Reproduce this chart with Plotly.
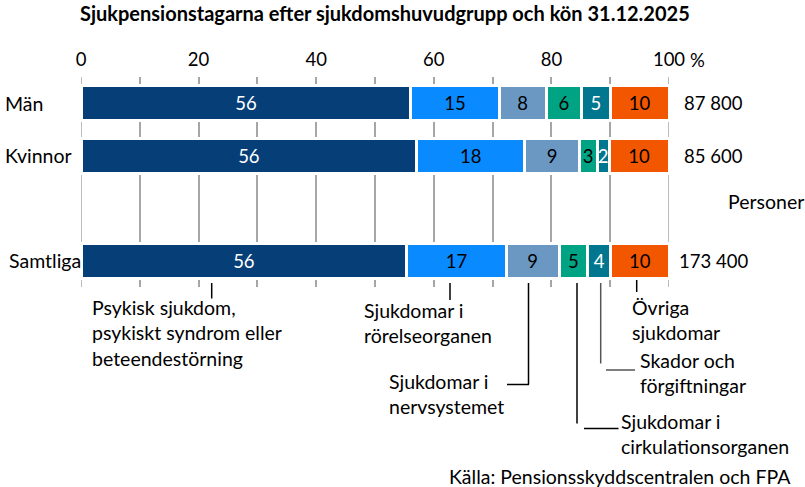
import plotly.graph_objects as go

# ---------------- data ----------------
categories = ["Män", "Kvinnor", "Samtliga"]
axis_categories = ["Män", "Kvinnor", " ", "Samtliga"]
groups = [
    "Psykisk sjukdom, psykiskt syndrom eller beteendestörning",
    "Sjukdomar i rörelseorganen",
    "Sjukdomar i nervsystemet",
    "Sjukdomar i cirkulationsorganen",
    "Skador och förgiftningar",
    "Övriga sjukdomar",
]
# shares (%) as measured from bar lengths
psykisk = [56.1, 57.1, 55.4]
rorelse = [15.0, 18.4, 16.9]
nerv = [8.0, 9.2, 9.0]
cirk = [6.0, 3.1, 4.9]
skador = [4.9, 2.0, 3.9]
ovriga = [10.0, 10.2, 9.9]
# printed labels
psykisk_lbl = ["56", "56", "56"]
rorelse_lbl = ["15", "18", "17"]
nerv_lbl = ["8", "9", "9"]
cirk_lbl = ["6", "3", "5"]
skador_lbl = ["5", "2", "4"]
ovriga_lbl = ["10", "10", "10"]
totals = ["87 800", "85 600", "173 400"]
grid_vals = [0, 10, 20, 30, 40, 50, 60, 70, 80, 90, 100]
grid_text = ["0", "", "20", "", "40", "", "60", "", "80", "", "100"]
edge_vals = [0, 100]

series = [
    (psykisk, psykisk_lbl, "#063F78", "white"),
    (rorelse, rorelse_lbl, "#0A8AFF", "black"),
    (nerv, nerv_lbl, "#6B98C3", "black"),
    (cirk, cirk_lbl, "#00A384", "black"),
    (skador, skador_lbl, "#00778F", "white"),
    (ovriga, ovriga_lbl, "#F25700", "black"),
]

FONT = "Lato"
FS_TXT = 19.5
FS_NUM = 18.5
FS_TITLE = 20
GRID = "#A6A6A6"

# ---------------- layout geometry (pixels) ----------------
W, H = 805, 487
L, R, T, B = 81, 136, 77, 200
PW = W - L - R
PH = H - T - B


def px2p(px):
    return (px - L) / PW


def py2p(py):
    return (H - B - py) / PH


def ann(text, x, y, size, xanchor="left", yanchor="middle", bold=False, align="left"):
    return dict(text=f"<b>{text}</b>" if bold else text, xref="paper", yref="paper",
                x=px2p(x), y=py2p(y), xanchor=xanchor, yanchor=yanchor, align=align,
                showarrow=False, font=dict(family=FONT, size=size, color="black"))


fig = go.Figure()
for (vals, lbls, col, tcol), name in zip(series, groups):
    fig.add_trace(go.Bar(
        y=categories, x=vals, name=name, orientation="h",
        text=lbls, textposition="inside", insidetextanchor="middle",
        textangle=0, constraintext="none",
        textfont=dict(family=FONT, size=FS_NUM, color=tcol),
        marker=dict(color=col, line=dict(color="white", width=3)),
        hoverinfo="x+y+name",
    ))

annotations = []
annotations.append(ann("Sjukpensionstagarna efter sjukdomshuvudgrupp och kön 31.12.2025",
                       78, 13, FS_TITLE, bold=True))
annotations.append(ann("%", 688, 60, FS_NUM))
# category labels (left px, center px)
for cat, lx, cy in zip(categories, [3, 3, 7], [103, 155.5, 260.5]):
    annotations.append(ann(cat, lx, cy, FS_TXT))
# totals
for tot, cy in zip(totals, [103, 155.5, 260.5]):
    annotations.append(ann(tot, 713, cy, FS_NUM, xanchor="center"))
annotations.append(ann("Personer", 766, 201, FS_TXT, xanchor="center"))

# group labels below the chart: (text, left px, center px)
group_labels = [
    ("Psykisk sjukdom,<br>psykiskt syndrom eller<br>beteendestörning", 90, 332.5),
    ("Sjukdomar i<br>rörelseorganen", 362, 323),
    ("Sjukdomar i<br>nervsystemet", 387, 394),
    ("Sjukdomar i<br>cirkulationsorganen", 619, 433.5),
    ("Skador och<br>förgiftningar", 638, 373),
    ("Övriga<br>sjukdomar", 630, 319.5),
]
for txt, lx, cy in group_labels:
    annotations.append(ann(txt, lx, cy, FS_TXT))
annotations.append(ann("Källa: Pensionsskyddscentralen och FPA", 793, 476, FS_TXT, xanchor="right"))

# leader lines (pixel segments)
leaders = [
    ((211.7, 283), (211.7, 298.5), "black"),
    ((450, 283), (450, 300), "black"),
    ((528.5, 283), (528.5, 384.5), "black"),
    ((507, 384.5), (529, 384.5), "black"),
    ((577, 283), (577, 423.5), "black"),
    ((584, 428.5), (618.5, 428.5), "black"),
    ((600.7, 283), (600.7, 363.5), "#555555"),
    ((606, 370), (635, 370), "#555555"),
    ((636.7, 280), (636.7, 292), "black"),
]
shapes = []
for (x0, y0), (x1, y1), col in leaders:
    shapes.append(dict(type="line", xref="paper", yref="paper",
                       x0=px2p(x0), x1=px2p(x1), y0=py2p(y0), y1=py2p(y1),
                       line=dict(color=col, width=1.5)))
# grid lines at the range edges (0 and 100 %), drawn below the bars
for v in edge_vals:
    shapes.append(dict(type="line", xref="x", yref="paper", x0=v, x1=v, y0=0, y1=1,
                       layer="below", line=dict(color=GRID, width=1.5)))

fig.update_layout(
    width=W, height=H,
    margin=dict(l=L, r=R, t=T, b=B, pad=0),
    barmode="stack", bargap=0.33,
    showlegend=False,
    plot_bgcolor="white", paper_bgcolor="white",
    font=dict(family=FONT, size=FS_TXT, color="black"),
    annotations=annotations, shapes=shapes,
    xaxis=dict(range=[0, 100], side="top", tickvals=grid_vals, ticktext=grid_text,
               showgrid=True, gridcolor=GRID, gridwidth=1.5,
               zeroline=False, showline=False, ticks="",
               tickfont=dict(family=FONT, size=FS_NUM, color="black"),
               ticklabelstandoff=6, fixedrange=True),
    yaxis=dict(type="category", categoryorder="array", categoryarray=axis_categories,
               range=[3.5, -0.5], showticklabels=False, showgrid=False,
               zeroline=False, showline=False, ticks="", fixedrange=True),
    uniformtext=dict(minsize=FS_NUM, mode="show"),
)

fig.write_html("out.html", config={"displayModeBar": False},
               post_script="document.body.style.margin='0px';")
